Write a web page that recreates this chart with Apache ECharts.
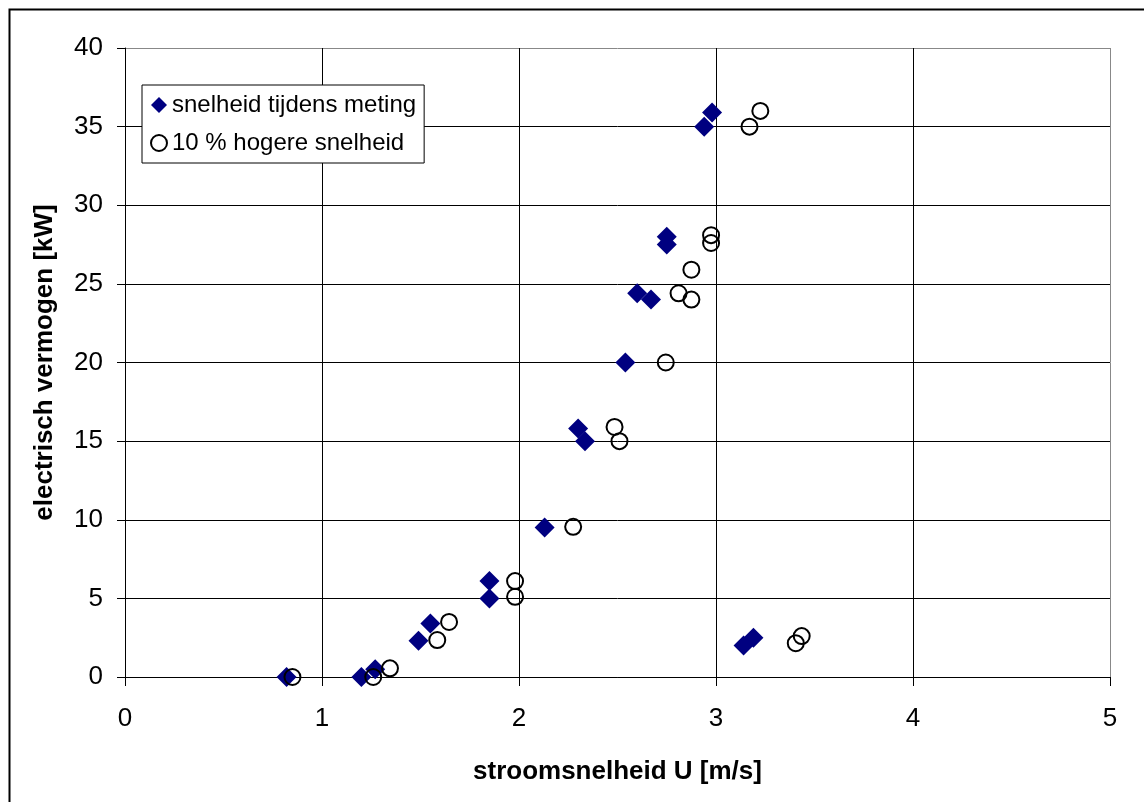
<!DOCTYPE html>
<html>
<head>
<meta charset="utf-8">
<script src="https://cdn.jsdelivr.net/npm/echarts@6/dist/echarts.min.js"></script>
<style>
  html, body { margin: 0; padding: 0; background: #fff; }
  #chart { width: 1144px; height: 802px; }
</style>
</head>
<body>
<div id="chart"></div>
<script>
// flow speed U [m/s] vs electric power [kW]
const measuredU = [0.82, 1.20, 1.27, 1.49, 1.55, 1.85, 1.85, 2.13, 2.30, 2.335, 2.54, 2.60, 2.67, 2.75, 2.75, 2.94, 2.98, 3.14, 3.19]
const measuredP = [0, 0, 0.5, 2.3, 3.4, 5.0, 6.1, 9.5, 15.8, 15.0, 20.0, 24.4, 24.0, 28.0, 27.5, 35.0, 35.9, 2.0, 2.5]
const higherU = [0.85, 1.26, 1.345, 1.585, 1.645, 1.98, 1.98, 2.275, 2.485, 2.51, 2.745, 2.81, 2.875, 2.875, 2.975, 2.975, 3.17, 3.225, 3.405, 3.435]
const higherP = [0, 0, 0.55, 2.35, 3.5, 5.1, 6.1, 9.55, 15.9, 15.0, 20.0, 24.4, 24.0, 25.9, 28.1, 27.6, 35.0, 36.0, 2.15, 2.6]
const seriesNames = ['snelheid tijdens meting', '10 % hogere snelheid']
const xTicks = [0, 1, 2, 3, 4, 5]
const yTicks = [0, 5, 10, 15, 20, 25, 30, 35, 40]

const font = '"Liberation Sans", Arial, sans-serif'
const pairs = (xs, ys) => xs.map((x, i) => [x, ys[i]])
// last grid line (plot border) is grey, the rest black
const gridColors = n => Array.from({ length: n }, (_, i) => (i === n - 1 ? '#888' : '#000'))

const chart = echarts.init(document.getElementById('chart'))
chart.setOption({
  backgroundColor: '#fff',
  animation: false,
  textStyle: { fontFamily: font },
  graphic: [{
    type: 'rect', left: 7, top: 7, silent: true,
    shape: { x: 0, y: 0, width: 1200, height: 900 },
    style: { fill: 'none', stroke: '#000', lineWidth: 2 }
  }],
  grid: { left: 125, top: 48, right: 34, bottom: 125 },
  legend: {
    left: 142, top: 85,
    orient: 'vertical',
    backgroundColor: '#fff',
    borderColor: '#000', borderWidth: 1,
    padding: [8, 8, 8, 8],
    itemGap: 14, itemWidth: 16, itemHeight: 16,
    textStyle: { fontSize: 24, color: '#000', fontFamily: font },
    data: seriesNames
  },
  xAxis: {
    type: 'value', min: xTicks[0], max: xTicks[xTicks.length - 1], interval: 1,
    name: 'stroomsnelheid U [m/s]', nameLocation: 'middle', nameGap: 82,
    nameTextStyle: { fontSize: 26, fontWeight: 'bold', color: '#000', fontFamily: font },
    axisLine: { lineStyle: { color: '#000', width: 1 } },
    axisTick: { inside: false, length: 9, lineStyle: { color: '#000' } },
    axisLabel: { fontSize: 26, color: '#000', margin: 29, fontFamily: font },
    splitLine: { show: true, lineStyle: { color: gridColors(xTicks.length), width: 1 } }
  },
  yAxis: {
    type: 'value', min: yTicks[0], max: yTicks[yTicks.length - 1], interval: 5,
    name: 'electrisch vermogen [kW]', nameLocation: 'middle', nameGap: 67,
    nameTextStyle: { fontSize: 26, fontWeight: 'bold', color: '#000', fontFamily: font },
    axisLine: { show: true, lineStyle: { color: '#000', width: 1 } },
    axisTick: { show: true, inside: false, length: 8, lineStyle: { color: '#000' } },
    axisLabel: { fontSize: 26, color: '#000', margin: 22, fontFamily: font, padding: [6, 0, 0, 0] },
    splitLine: { show: true, lineStyle: { color: gridColors(yTicks.length), width: 1 } }
  },
  series: [
    {
      name: seriesNames[0], type: 'scatter', symbol: 'diamond', symbolSize: 20,
      itemStyle: { color: '#000080', opacity: 1 },
      data: pairs(measuredU, measuredP)
    },
    {
      name: seriesNames[1], type: 'scatter', symbol: 'circle', symbolSize: 16,
      itemStyle: { color: 'rgba(0,0,0,0)', borderColor: '#000', borderWidth: 2, opacity: 1 },
      data: pairs(higherU, higherP)
    }
  ]
})
</script>
</body>
</html>
